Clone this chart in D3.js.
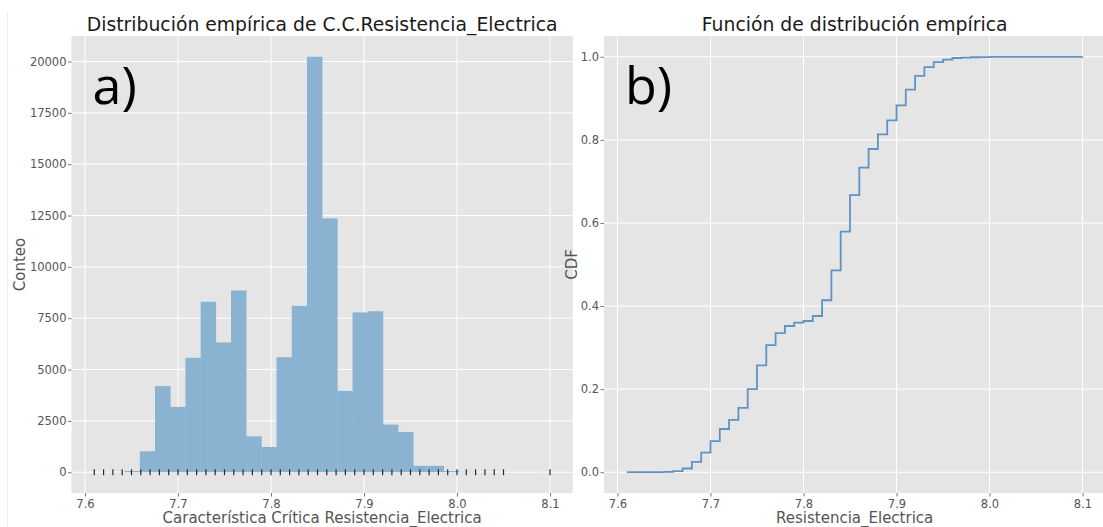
<!DOCTYPE html>
<html>
<head>
<meta charset="utf-8">
<script src="https://cdn.jsdelivr.net/npm/d3@7"></script>
<style>
body { margin: 0; background: #fff; }
text { font-family: "DejaVu Sans", sans-serif; }
</style>
</head>
<body>
<div class="container"></div>
<script>
const WIDTH = 1103;
const HEIGHT = 527;

// histogram: 30 bins between min and max of the data
const BIN_MIN = 7.61;
const BIN_MAX = 8.10;
const binCounts = [3, 8, 60, 1020, 4190, 3180, 5570, 8300, 6320, 8850,
                   1750, 1230, 5600, 8100, 20230, 12360, 3960, 7780, 7840, 2320,
                   1960, 310, 310, 60, 20, 8, 6, 0, 0, 2];

// distinct measured values (rug)
const rugValues = [7.61, 7.62, 7.63, 7.64, 7.65, 7.66, 7.67, 7.68, 7.69, 7.70,
                   7.71, 7.72, 7.73, 7.74, 7.75, 7.76, 7.77, 7.78, 7.79, 7.80,
                   7.81, 7.82, 7.83, 7.84, 7.85, 7.86, 7.87, 7.88, 7.89, 7.90,
                   7.91, 7.92, 7.93, 7.94, 7.95, 7.96, 7.97, 7.98, 7.99, 8.00,
                   8.01, 8.02, 8.03, 8.04, 8.05, 8.10];

// empirical CDF at each distinct value
const ecdfValues = [0.00003, 0.00008, 0.00015, 0.0003, 0.0008, 0.0025, 0.009, 0.025, 0.047, 0.075,
                    0.104, 0.126, 0.155, 0.200, 0.257, 0.306, 0.335, 0.352, 0.360, 0.364,
                    0.376, 0.414, 0.486, 0.579, 0.667, 0.733, 0.778, 0.813, 0.847, 0.883,
                    0.921, 0.954, 0.975, 0.987, 0.993, 0.997, 0.998, 0.9988, 0.9993, 0.9996,
                    0.9998, 0.99985, 0.9999, 0.99993, 0.99997, 1.0];

const xTicks = [7.6, 7.7, 7.8, 7.9, 8.0, 8.1];
const countTicks = [0, 2500, 5000, 7500, 10000, 12500, 15000, 17500, 20000];
const cdfTicks = [0, 0.2, 0.4, 0.6, 0.8, 1.0];

const PANEL_A = {left: 71.5, right: 572.8, top: 36, bottom: 493};
const PANEL_B = {left: 604, right: 1105.3, top: 36, bottom: 493};
const BG = '#e5e5e5';
const TICK_COLOR = '#555555';

var svg = d3.select('.container').append('svg')
    .attr('width', WIDTH)
    .attr('height', HEIGHT);

// faint frame line on the far left
svg.append('line')
    .attr('x1', 7.5).attr('x2', 7.5).attr('y1', 12).attr('y2', HEIGHT)
    .attr('stroke', '#efefef');

var padDomain = function (lo, hi) {
    var m = (hi - lo) * 0.05;
    return [lo - m, hi + m];
};

var drawFrame = function (p, xScale, yScale, yTicks, yFmt) {
    var g = svg.append('g');
    g.append('rect')
        .attr('x', p.left).attr('y', p.top)
        .attr('width', p.right - p.left).attr('height', p.bottom - p.top)
        .attr('fill', BG);

    // grid
    g.selectAll('.vgrid').data(xTicks).enter().append('line')
        .attr('x1', xScale).attr('x2', xScale)
        .attr('y1', p.top).attr('y2', p.bottom)
        .attr('stroke', '#fff').attr('stroke-width', 1);
    g.selectAll('.hgrid').data(yTicks).enter().append('line')
        .attr('x1', p.left).attr('x2', p.right)
        .attr('y1', yScale).attr('y2', yScale)
        .attr('stroke', '#fff').attr('stroke-width', 1);

    var xAxis = d3.axisBottom(xScale).tickValues(xTicks)
        .tickFormat(d3.format('.1f')).tickSizeInner(3.5).tickSizeOuter(0).tickPadding(3);
    var yAxis = d3.axisLeft(yScale).tickValues(yTicks)
        .tickFormat(yFmt).tickSizeInner(3.5).tickSizeOuter(0).tickPadding(1.5);

    var gx = svg.append('g')
        .attr('transform', 'translate(0,' + p.bottom + ')')
        .call(xAxis);
    var gy = svg.append('g')
        .attr('transform', 'translate(' + p.left + ',0)')
        .call(yAxis);
    [gx, gy].forEach(function (a) {
        a.select('.domain').remove();
        a.selectAll('line').attr('stroke', TICK_COLOR).attr('stroke-width', 0.8);
        a.selectAll('text').attr('fill', TICK_COLOR)
            .style('font-family', '"DejaVu Sans", sans-serif').style('font-size', '11.5px');
    });
    return g;
};

var addTexts = function (p, title, xLabel, yLabel, yLabelX, tag) {
    var cx = (p.left + p.right) / 2;
    svg.append('text')
        .attr('x', cx).attr('y', 31)
        .attr('text-anchor', 'middle')
        .attr('fill', '#1a1a1a')
        .style('font-size', '18.8px')
        .text(title);
    svg.append('text')
        .attr('x', cx).attr('y', 523)
        .attr('text-anchor', 'middle')
        .attr('fill', TICK_COLOR)
        .style('font-size', '15px')
        .text(xLabel);
    svg.append('text')
        .attr('transform', 'translate(' + yLabelX + ',' + ((p.top + p.bottom) / 2) + ') rotate(-90)')
        .attr('text-anchor', 'middle')
        .attr('fill', TICK_COLOR)
        .style('font-size', '15px')
        .text(yLabel);
    svg.append('text')
        .attr('x', p.left + 21).attr('y', 104)
        .attr('fill', '#000')
        .style('font-family', '"Open Sans", sans-serif')
        .style('font-size', '52px')
        .text(tag);
};

// ---- a) histogram ----
var xA = d3.scaleLinear().domain(padDomain(BIN_MIN, BIN_MAX)).range([PANEL_A.left, PANEL_A.right]);
var yA = d3.scaleLinear().domain(padDomain(0, d3.max(binCounts))).range([PANEL_A.bottom, PANEL_A.top]);
drawFrame(PANEL_A, xA, yA, countTicks, d3.format('d'));

var binWidth = (BIN_MAX - BIN_MIN) / binCounts.length;
svg.append('g').selectAll('rect')
    .data(binCounts)
    .enter().append('rect')
    .attr('x', function (d, i) { return xA(BIN_MIN + i * binWidth); })
    .attr('width', function (d, i) { return xA(BIN_MIN + (i + 1) * binWidth) - xA(BIN_MIN + i * binWidth) + 0.3; })
    .attr('y', function (d) { return yA(d); })
    .attr('height', function (d) { return yA(0) - yA(d); })
    .attr('fill', '#8ab2d1');

// rug marks
svg.append('g').selectAll('line')
    .data(rugValues)
    .enter().append('line')
    .attr('x1', xA).attr('x2', xA)
    .attr('y1', yA(0) - 3).attr('y2', yA(0) + 3)
    .attr('stroke', '#2a2a2a').attr('stroke-width', 1.2);

addTexts(PANEL_A, 'Distribución empírica de C.C.Resistencia_Electrica',
    'Característica Crítica Resistencia_Electrica', 'Conteo', 25, 'a)');

// ---- b) ECDF ----
var xB = d3.scaleLinear().domain(padDomain(BIN_MIN, BIN_MAX)).range([PANEL_B.left, PANEL_B.right]);
var yB = d3.scaleLinear().domain(padDomain(0, 1)).range([PANEL_B.bottom, PANEL_B.top]);
drawFrame(PANEL_B, xB, yB, cdfTicks, d3.format('.1f'));

var step = d3.line()
    .curve(d3.curveStepAfter)
    .x(function (d, i) { return xB(rugValues[i]); })
    .y(function (d) { return yB(d); });

svg.append('path')
    .attr('d', step(ecdfValues))
    .attr('fill', 'none')
    .attr('stroke', '#5f93c4')
    .attr('stroke-width', 1.8);

addTexts(PANEL_B, 'Función de distribución empírica', 'Resistencia_Electrica', 'CDF', 577, 'b)');
</script>
</body>
</html>
